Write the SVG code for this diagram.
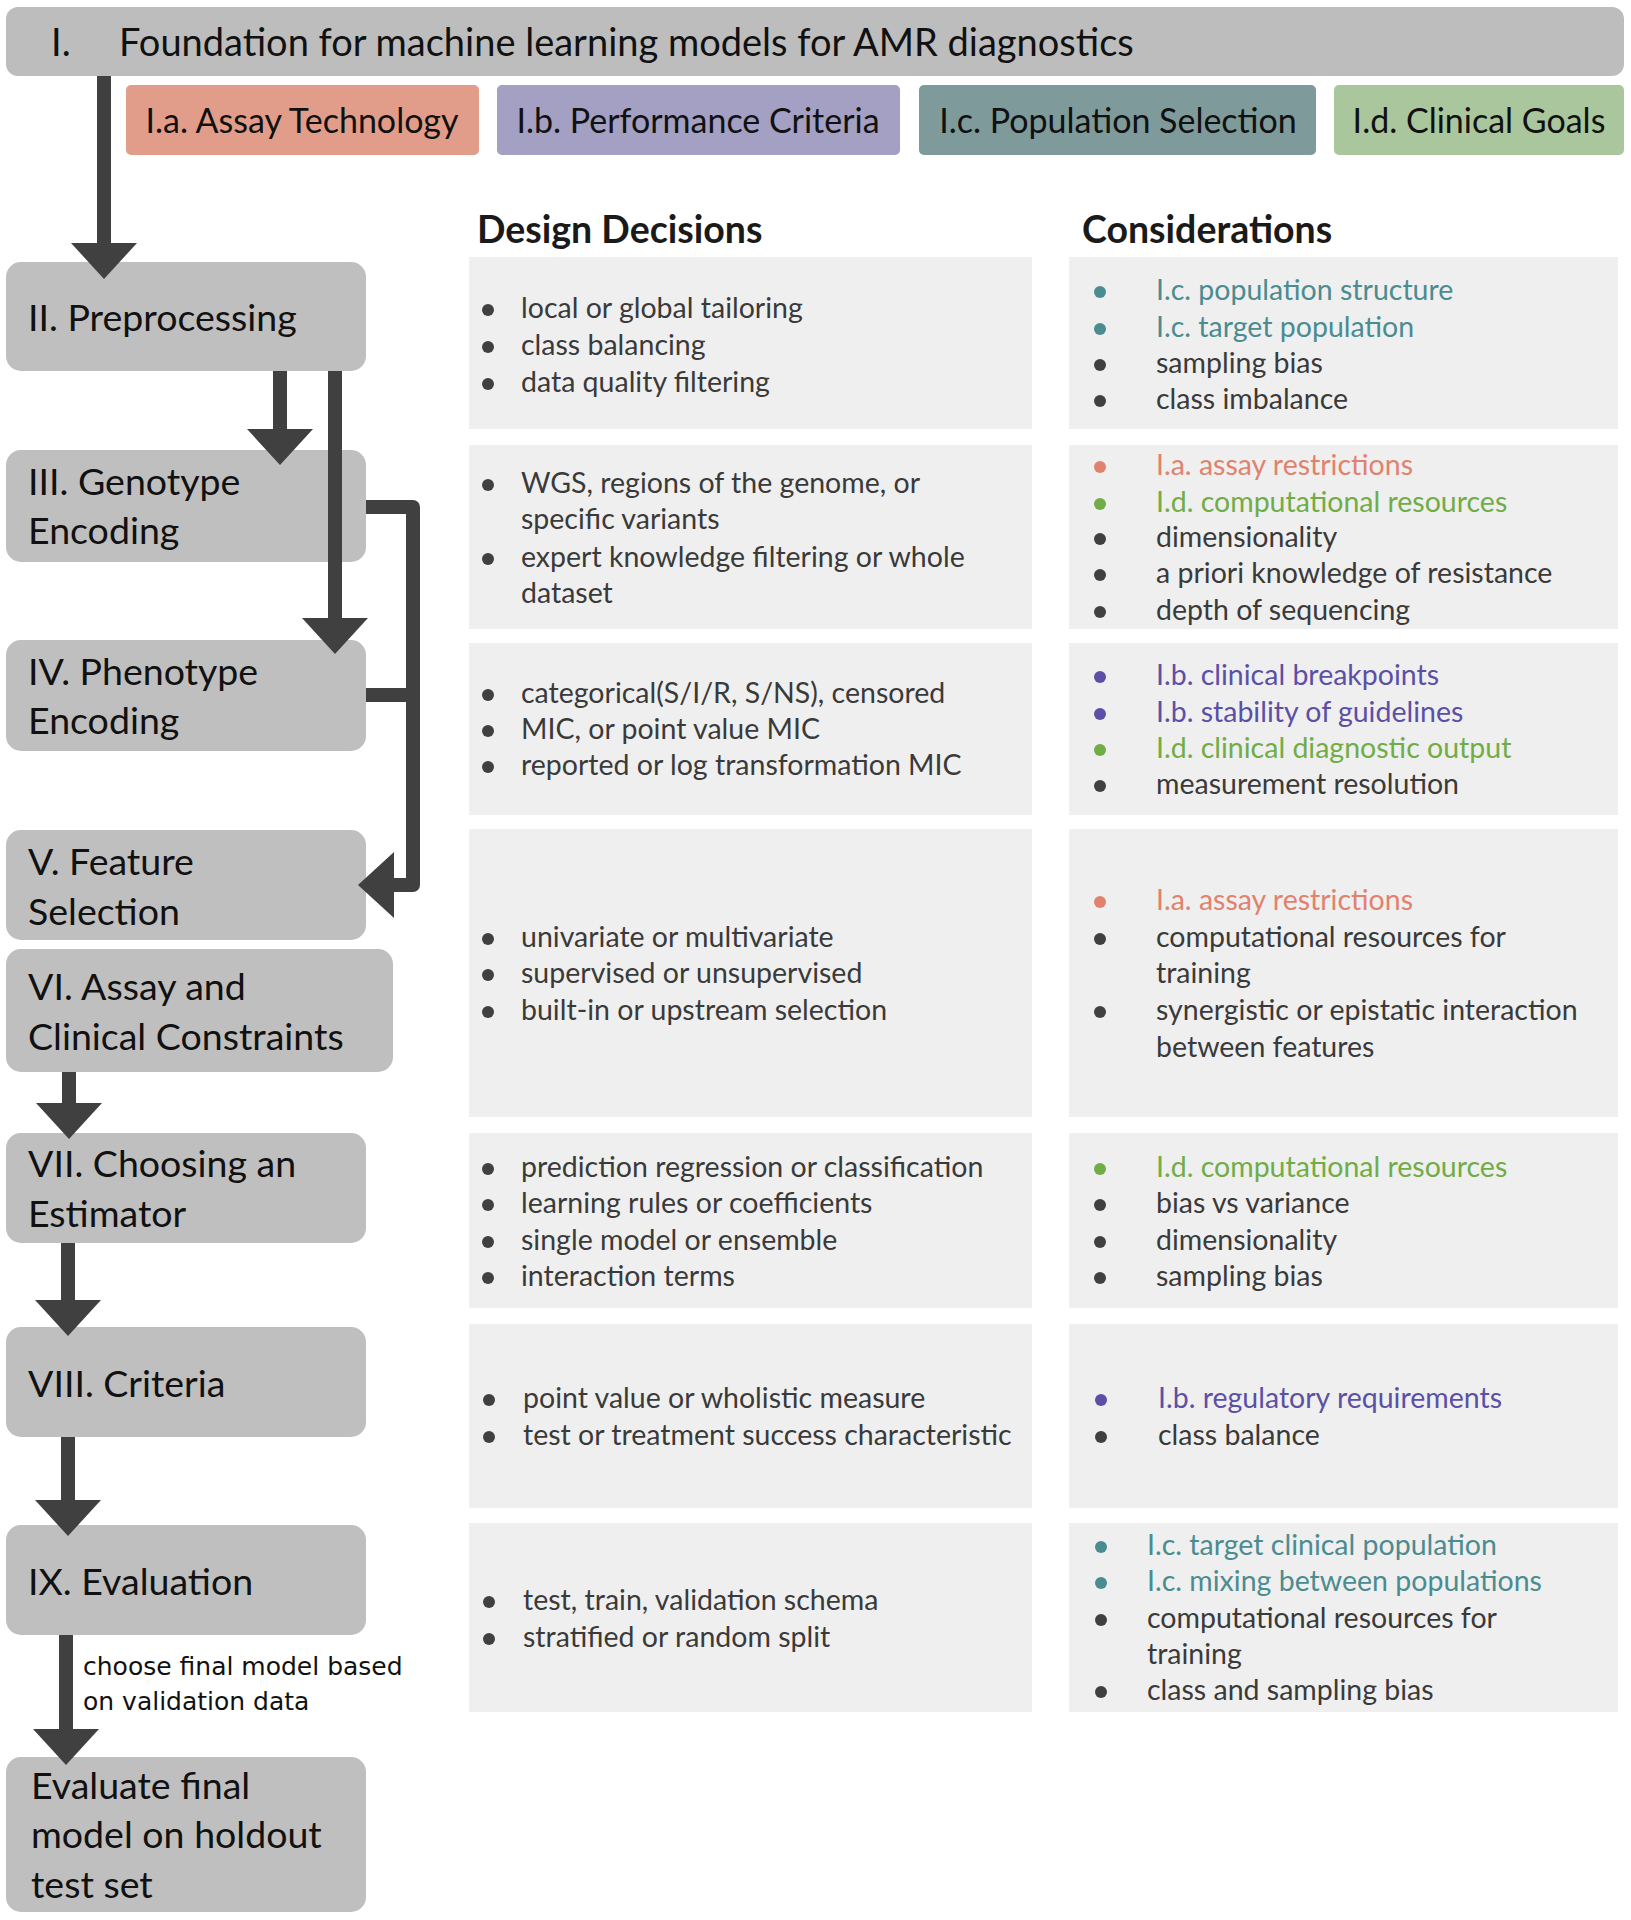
<svg xmlns="http://www.w3.org/2000/svg" width="1631" height="1920" viewBox="0 0 1631 1920">
<style>
.bg{fill:#ffffff}
.node{fill:#bfbfbf}
.nt{font-family:Lato,"Liberation Sans",sans-serif;font-size:37.5px;fill:#111111}
.tt{font-family:Lato,"Liberation Sans",sans-serif;font-size:38px;fill:#111111}
.st{font-family:Lato,"Liberation Sans",sans-serif;font-size:34px;fill:#111111;text-anchor:middle}
.hd{font-family:Lato,"Liberation Sans",sans-serif;font-size:37.5px;font-weight:bold;fill:#1a1a1a}
.panel{fill:#efefef}
.pt{font-family:Lato,"Liberation Sans",sans-serif;font-size:28.5px;fill:#3a3a3a}
.lbl{font-family:"DejaVu Sans",sans-serif;font-size:25px;fill:#111111}
.dot{fill:#404040}
.ca{fill:#e0826e}
.cb{fill:#5b50a6}
.cc{fill:#4a8c8f}
.cd{fill:#70ad47}
.conn{fill:none;stroke:#404040;stroke-width:14;stroke-linejoin:round}
</style>
<defs>
<marker id="ah" markerUnits="userSpaceOnUse" markerWidth="36" markerHeight="66" viewBox="0 0 36 66" refX="0" refY="33" orient="auto">
<path d="M0,0 L36,33 L0,66 Z" fill="#404040"/>
</marker>
</defs>
<rect class="bg" x="0" y="0" width="1631" height="1920"/>

<g id="node-I">
<rect x="6" y="7" width="1618" height="69" rx="12" fill="#bdbdbd"/>
<text class="tt" x="51" y="56">I.</text>
<text class="tt" x="119" y="56">Foundation for machine learning models for AMR diagnostics</text>
</g>
<g id="node-Ia">
<rect x="126" y="85" width="353" height="70" rx="5" fill="#e29d8a"/>
<text class="st" x="302" y="133">I.a. Assay Technology</text>
</g>
<g id="node-Ib">
<rect x="497" y="85" width="403" height="70" rx="5" fill="#a3a0c3"/>
<text class="st" x="698" y="133">I.b. Performance Criteria</text>
</g>
<g id="node-Ic">
<rect x="919" y="85" width="397" height="70" rx="5" fill="#7e9a9b"/>
<text class="st" x="1118" y="133">I.c. Population Selection</text>
</g>
<g id="node-Id">
<rect x="1334" y="85" width="290" height="70" rx="5" fill="#aac69c"/>
<text class="st" x="1479" y="133">I.d. Clinical Goals</text>
</g>

<g id="headers">
<text class="hd" x="477" y="243">Design Decisions</text>
<text class="hd" x="1082" y="243">Considerations</text>
</g>

<g id="node-II">
<rect class="node" x="6" y="262" width="360" height="109" rx="15"/>
<text class="nt" x="28" y="331">II. Preprocessing</text>
</g>
<g id="node-III">
<rect class="node" x="6" y="450" width="360" height="112" rx="15"/>
<text class="nt" x="28" y="495">III. Genotype</text>
<text class="nt" x="28" y="544">Encoding</text>
</g>
<g id="node-IV">
<rect class="node" x="6" y="640" width="360" height="111" rx="15"/>
<text class="nt" x="28" y="685">IV. Phenotype</text>
<text class="nt" x="28" y="734">Encoding</text>
</g>
<g id="node-V">
<rect class="node" x="6" y="830" width="360" height="110" rx="15"/>
<text class="nt" x="28" y="875">V. Feature</text>
<text class="nt" x="28" y="925">Selection</text>
</g>
<g id="node-VI">
<rect class="node" x="6" y="949" width="387" height="123" rx="15"/>
<text class="nt" x="28" y="1000">VI. Assay and</text>
<text class="nt" x="28" y="1050">Clinical Constraints</text>
</g>
<g id="node-VII">
<rect class="node" x="6" y="1133" width="360" height="110" rx="15"/>
<text class="nt" x="28" y="1177">VII. Choosing an</text>
<text class="nt" x="28" y="1227">Estimator</text>
</g>
<g id="node-VIII">
<rect class="node" x="6" y="1327" width="360" height="110" rx="15"/>
<text class="nt" x="28" y="1397">VIII. Criteria</text>
</g>
<g id="node-IX">
<rect class="node" x="6" y="1525" width="360" height="110" rx="15"/>
<text class="nt" x="28" y="1595">IX. Evaluation</text>
</g>
<g id="node-final">
<rect class="node" x="6" y="1757" width="360" height="155" rx="15"/>
<text class="nt" x="31" y="1799">Evaluate final</text>
<text class="nt" x="31" y="1848">model on holdout</text>
<text class="nt" x="31" y="1898">test set</text>
</g>

<g id="connectors">
<path class="conn" d="M104,76 V243" marker-end="url(#ah)"/>
<path class="conn" d="M280,371 V429" marker-end="url(#ah)"/>
<path class="conn" d="M335,371 V618" marker-end="url(#ah)"/>
<path class="conn" d="M366,507 H413 V885 H394" marker-end="url(#ah)"/>
<path class="conn" d="M366,695 H413"/>
<path class="conn" d="M69,1072 V1103" marker-end="url(#ah)"/>
<path class="conn" d="M68,1243 V1300" marker-end="url(#ah)"/>
<path class="conn" d="M68,1437 V1500" marker-end="url(#ah)"/>
<path class="conn" d="M66,1635 V1729" marker-end="url(#ah)"/>
<text class="lbl" x="83" y="1675">choose final model based</text>
<text class="lbl" x="83" y="1710">on validation data</text>
</g>

<g id="panel-II-decisions">
<rect class="panel" x="469" y="257" width="563" height="172"/>
<circle class="dot" cx="488" cy="310" r="6"/><text class="pt" x="521" y="318">local or global tailoring</text>
<circle class="dot" cx="488" cy="347" r="6"/><text class="pt" x="521" y="355">class balancing</text>
<circle class="dot" cx="488" cy="384" r="6"/><text class="pt" x="521" y="392">data quality filtering</text>
</g>
<g id="panel-II-considerations">
<rect class="panel" x="1069" y="257" width="549" height="172"/>
<circle class="cc" cx="1100" cy="292" r="6"/><text class="pt cc" x="1156" y="300">I.c. population structure</text>
<circle class="cc" cx="1100" cy="329" r="6"/><text class="pt cc" x="1156" y="337">I.c. target population</text>
<circle class="dot" cx="1100" cy="365" r="6"/><text class="pt" x="1156" y="373">sampling bias</text>
<circle class="dot" cx="1100" cy="401" r="6"/><text class="pt" x="1156" y="409">class imbalance</text>
</g>

<g id="panel-III-decisions">
<rect class="panel" x="469" y="445" width="563" height="184"/>
<circle class="dot" cx="488" cy="485" r="6"/><text class="pt" x="521" y="493">WGS, regions of the genome, or</text>
<text class="pt" x="521" y="529">specific variants</text>
<circle class="dot" cx="488" cy="559" r="6"/><text class="pt" x="521" y="567">expert knowledge filtering or whole</text>
<text class="pt" x="521" y="603">dataset</text>
</g>
<g id="panel-III-considerations">
<rect class="panel" x="1069" y="445" width="549" height="184"/>
<circle class="ca" cx="1100" cy="467" r="6"/><text class="pt ca" x="1156" y="475">I.a. assay restrictions</text>
<circle class="cd" cx="1100" cy="504" r="6"/><text class="pt cd" x="1156" y="512">I.d. computational resources</text>
<circle class="dot" cx="1100" cy="539" r="6"/><text class="pt" x="1156" y="547">dimensionality</text>
<circle class="dot" cx="1100" cy="575" r="6"/><text class="pt" x="1156" y="583">a priori knowledge of resistance</text>
<circle class="dot" cx="1100" cy="612" r="6"/><text class="pt" x="1156" y="620">depth of sequencing</text>
</g>

<g id="panel-IV-decisions">
<rect class="panel" x="469" y="643" width="563" height="172"/>
<circle class="dot" cx="488" cy="695" r="6"/><text class="pt" x="521" y="703">categorical(S/I/R, S/NS), censored</text>
<circle class="dot" cx="488" cy="731" r="6"/><text class="pt" x="521" y="739">MIC, or point value MIC</text>
<circle class="dot" cx="488" cy="767" r="6"/><text class="pt" x="521" y="775">reported or log transformation MIC</text>
</g>
<g id="panel-IV-considerations">
<rect class="panel" x="1069" y="643" width="549" height="172"/>
<circle class="cb" cx="1100" cy="677" r="6"/><text class="pt cb" x="1156" y="685">I.b. clinical breakpoints</text>
<circle class="cb" cx="1100" cy="714" r="6"/><text class="pt cb" x="1156" y="722">I.b. stability of guidelines</text>
<circle class="cd" cx="1100" cy="750" r="6"/><text class="pt cd" x="1156" y="758">I.d. clinical diagnostic output</text>
<circle class="dot" cx="1100" cy="786" r="6"/><text class="pt" x="1156" y="794">measurement resolution</text>
</g>

<g id="panel-V-decisions">
<rect class="panel" x="469" y="829" width="563" height="288"/>
<circle class="dot" cx="488" cy="939" r="6"/><text class="pt" x="521" y="947">univariate or multivariate</text>
<circle class="dot" cx="488" cy="975" r="6"/><text class="pt" x="521" y="983">supervised or unsupervised</text>
<circle class="dot" cx="488" cy="1012" r="6"/><text class="pt" x="521" y="1020">built-in or upstream selection</text>
</g>
<g id="panel-V-considerations">
<rect class="panel" x="1069" y="829" width="549" height="288"/>
<circle class="ca" cx="1100" cy="902" r="6"/><text class="pt ca" x="1156" y="910">I.a. assay restrictions</text>
<circle class="dot" cx="1100" cy="939" r="6"/><text class="pt" x="1156" y="947">computational resources for</text>
<text class="pt" x="1156" y="983">training</text>
<circle class="dot" cx="1100" cy="1012" r="6"/><text class="pt" x="1156" y="1020">synergistic or epistatic interaction</text>
<text class="pt" x="1156" y="1057">between features</text>
</g>

<g id="panel-VII-decisions">
<rect class="panel" x="469" y="1133" width="563" height="175"/>
<circle class="dot" cx="488" cy="1169" r="6"/><text class="pt" x="521" y="1177">prediction regression or classification</text>
<circle class="dot" cx="488" cy="1205" r="6"/><text class="pt" x="521" y="1213">learning rules or coefficients</text>
<circle class="dot" cx="488" cy="1242" r="6"/><text class="pt" x="521" y="1250">single model or ensemble</text>
<circle class="dot" cx="488" cy="1278" r="6"/><text class="pt" x="521" y="1286">interaction terms</text>
</g>
<g id="panel-VII-considerations">
<rect class="panel" x="1069" y="1133" width="549" height="175"/>
<circle class="cd" cx="1100" cy="1169" r="6"/><text class="pt cd" x="1156" y="1177">I.d. computational resources</text>
<circle class="dot" cx="1100" cy="1205" r="6"/><text class="pt" x="1156" y="1213">bias vs variance</text>
<circle class="dot" cx="1100" cy="1242" r="6"/><text class="pt" x="1156" y="1250">dimensionality</text>
<circle class="dot" cx="1100" cy="1278" r="6"/><text class="pt" x="1156" y="1286">sampling bias</text>
</g>

<g id="panel-VIII-decisions">
<rect class="panel" x="469" y="1324" width="563" height="184"/>
<circle class="dot" cx="489" cy="1400" r="6"/><text class="pt" x="523" y="1408">point value or wholistic measure</text>
<circle class="dot" cx="489" cy="1437" r="6"/><text class="pt" x="523" y="1445">test or treatment success characteristic</text>
</g>
<g id="panel-VIII-considerations">
<rect class="panel" x="1069" y="1324" width="549" height="184"/>
<circle class="cb" cx="1101" cy="1400" r="6"/><text class="pt cb" x="1158" y="1408">I.b. regulatory requirements</text>
<circle class="dot" cx="1101" cy="1437" r="6"/><text class="pt" x="1158" y="1445">class balance</text>
</g>

<g id="panel-IX-decisions">
<rect class="panel" x="469" y="1523" width="563" height="189"/>
<circle class="dot" cx="489" cy="1602" r="6"/><text class="pt" x="523" y="1610">test, train, validation schema</text>
<circle class="dot" cx="489" cy="1639" r="6"/><text class="pt" x="523" y="1647">stratified or random split</text>
</g>
<g id="panel-IX-considerations">
<rect class="panel" x="1069" y="1523" width="549" height="189"/>
<circle class="cc" cx="1101" cy="1547" r="6"/><text class="pt cc" x="1147" y="1555">I.c. target clinical population</text>
<circle class="cc" cx="1101" cy="1583" r="6"/><text class="pt cc" x="1147" y="1591">I.c. mixing between populations</text>
<circle class="dot" cx="1101" cy="1620" r="6"/><text class="pt" x="1147" y="1628">computational resources for</text>
<text class="pt" x="1147" y="1664">training</text>
<circle class="dot" cx="1101" cy="1692" r="6"/><text class="pt" x="1147" y="1700">class and sampling bias</text>
</g>
</svg>
